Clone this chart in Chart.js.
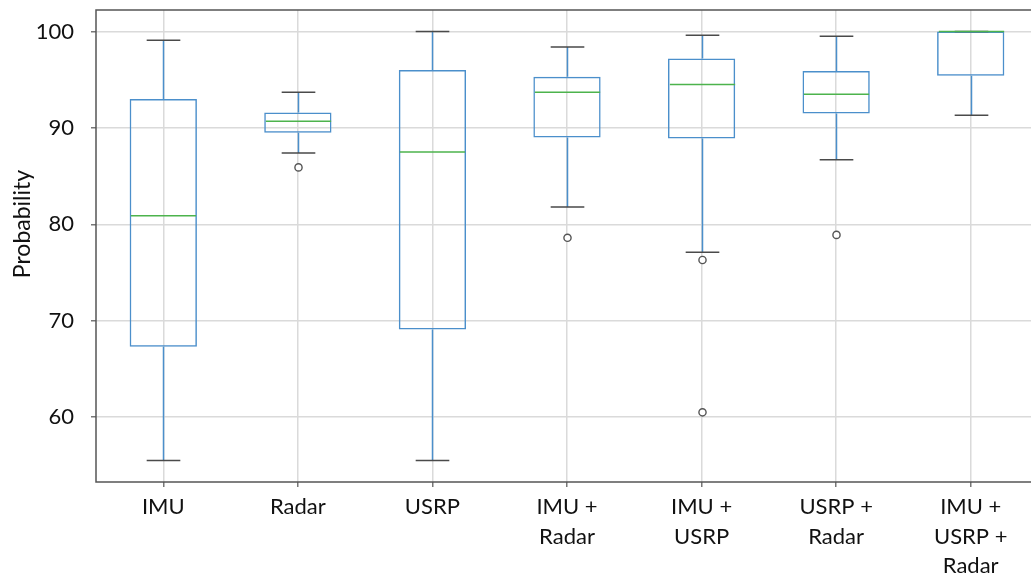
<!DOCTYPE html>
<html>
<head>
<meta charset="utf-8">
<script src="https://cdn.jsdelivr.net/npm/chart.js@4.4.1/dist/chart.umd.min.js"></script>
<style>
  html, body { margin: 0; padding: 0; background: #fff; overflow: hidden; }
  #wrap { width: 1038px; height: 575px; position: relative; }
</style>
</head>
<body>
<div id="wrap"><canvas id="c" width="1038" height="575"></canvas></div>
<script>
// Box-plot summary per sensor combination
const categories = [['IMU'], ['Radar'], ['USRP'], ['IMU +', 'Radar'], ['IMU +', 'USRP'], ['USRP +', 'Radar'], ['IMU +', 'USRP +', 'Radar']];
const whiskerLow  = [55.5, 87.4, 55.5, 81.8, 77.1, 86.7, 91.3];
const quartile1   = [67.3, 89.5, 69.1, 89.0, 88.9, 91.5, 95.4];
const medians     = [80.9, 90.7, 87.5, 93.7, 94.5, 93.5, 100.0];
const quartile3   = [93.0, 91.6, 96.0, 95.3, 97.2, 95.9, 100.0];
const whiskerHigh = [99.1, 93.7, 100.0, 98.4, 99.6, 99.5, 100.0];
const outliers    = [[], [85.9], [], [78.6], [76.3, 60.5], [78.9], []];
const yTicks = [60, 70, 80, 90, 100];
const yTitle = 'Probability';

const FONT = 'Lato';
const BOX_BLUE = '#4b8fcb';
const CAP_GRAY = '#4a4a4a';
const MEDIAN_GREEN = '#4db34d';

// Whiskers, caps, medians and fliers drawn on top of the box bars
const boxParts = {
  id: 'boxParts',
  afterDatasetsDraw(chart) {
    const { ctx, scales: { x, y } } = chart;
    const bars = chart.getDatasetMeta(0).data;
    const step = x.getPixelForValue(1) - x.getPixelForValue(0);
    const capHalf = step / 8;
    ctx.save();
    categories.forEach((_, i) => {
      const cx = Math.round(x.getPixelForValue(i)) + 0.5;
      const half = bars[i].width / 2;
      // whiskers
      ctx.strokeStyle = BOX_BLUE;
      ctx.lineWidth = 1.5;
      ctx.beginPath();
      ctx.moveTo(cx, y.getPixelForValue(quartile3[i]));
      ctx.lineTo(cx, y.getPixelForValue(whiskerHigh[i]));
      ctx.moveTo(cx, y.getPixelForValue(quartile1[i]));
      ctx.lineTo(cx, y.getPixelForValue(whiskerLow[i]));
      ctx.stroke();
      // caps
      ctx.strokeStyle = CAP_GRAY;
      ctx.lineWidth = 1.5;
      ctx.beginPath();
      [whiskerHigh[i], whiskerLow[i]].forEach(v => {
        const py = y.getPixelForValue(v);
        ctx.moveTo(cx - capHalf, py);
        ctx.lineTo(cx + capHalf, py);
      });
      ctx.stroke();
      // median
      ctx.strokeStyle = MEDIAN_GREEN;
      ctx.lineWidth = 1.5;
      ctx.beginPath();
      const my = y.getPixelForValue(medians[i]);
      ctx.moveTo(cx - half + 1, my);
      ctx.lineTo(cx + half - 1, my);
      ctx.stroke();
      // fliers
      ctx.strokeStyle = '#555';
      ctx.fillStyle = '#fff';
      ctx.lineWidth = 1.4;
      outliers[i].forEach(v => {
        ctx.beginPath();
        ctx.arc(cx, y.getPixelForValue(v), 3.6, 0, Math.PI * 2);
        ctx.fill();
        ctx.stroke();
      });
    });
    ctx.restore();
  }
};

// Axes frame and rotated y-axis title
const frame = {
  id: 'frame',
  beforeDatasetsDraw(chart) {
    const { ctx, chartArea: a } = chart;
    ctx.save();
    ctx.strokeStyle = '#555';
    ctx.lineWidth = 1.5;
    ctx.strokeRect(a.left, a.top, a.right - a.left, a.bottom - a.top);
    ctx.restore();
  },
  afterDraw(chart) {
    const { ctx } = chart;
    ctx.save();
    ctx.translate(23, 224);
    ctx.rotate(-Math.PI / 2);
    ctx.font = '23px ' + FONT;
    ctx.fillStyle = '#111';
    ctx.textAlign = 'center';
    ctx.textBaseline = 'middle';
    ctx.fillText(yTitle, 0, 0);
    ctx.restore();
  }
};

new Chart(document.getElementById('c'), {
  type: 'bar',
  data: {
    labels: categories,
    datasets: [{
      data: quartile1.map((q, i) => [q, quartile3[i]]),
      backgroundColor: 'rgba(0,0,0,0)',
      borderColor: BOX_BLUE,
      borderWidth: 1.5,
      borderSkipped: false,
      barPercentage: 0.5,
      categoryPercentage: 1.0
    }]
  },
  options: {
    responsive: false,
    animation: false,
    devicePixelRatio: 1,
    layout: { padding: { top: 10, right: 0, bottom: 0, left: 0 } },
    plugins: { legend: { display: false }, tooltip: { enabled: false } },
    scales: {
      x: {
        type: 'category',
        offset: true,
        grid: { offset: false, color: '#dadada', lineWidth: 1.5, tickLength: 5, tickColor: '#777' },
        border: { display: false },
        ticks: {
          color: '#111',
          padding: 5,
          maxRotation: 0,
          autoSkip: false,
          font: { family: FONT, size: 22, lineHeight: 1.35 }
        },
        afterFit(s) {
          s.height = 93;
          s.paddingLeft = 0;
          s.paddingRight = 0;
        }
      },
      y: {
        min: 53.275,
        max: 102.225,
        bounds: 'data',
        grid: { color: '#dadada', lineWidth: 1.5, tickLength: 5, tickColor: '#777' },
        border: { display: false },
        ticks: {
          color: '#111',
          padding: 17,
          font: { family: FONT, size: 22 }
        },
        afterBuildTicks(s) { s.ticks = yTicks.map(v => ({ value: v })); },
        afterFit(s) {
          s.width = 96;
          s.paddingTop = 0;
          s.paddingBottom = 0;
        }
      }
    }
  },
  plugins: [frame, boxParts]
});
</script>
</body>
</html>
